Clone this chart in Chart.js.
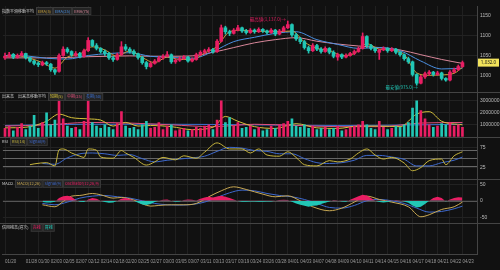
<!DOCTYPE html>
<html>
<head>
<meta charset="utf-8">
<script src="https://cdn.jsdelivr.net/npm/chart.js@4/dist/chart.umd.min.js"></script>
<style>
  html, body { margin: 0; padding: 0; background: #111; }
  canvas { display: block; }
</style>
</head>
<body>
<canvas id="c" width="500" height="270"></canvas>
<script>
// daily candles (price)
const open = [1044,1048,1053,1045,1050,1055,1044,1036,1031,1026,1032,1028,1014,1010,1050,1066,1060,1050,1055,1048,
  1062,1088,1075,1068,1060,1055,1044,1040,1052,1072,1066,1060,1054,1045,1032,1022,1030,1036,1044,1048,
  1052,1034,1038,1042,1046,1036,1040,1052,1058,1062,1065,1060,1086,1120,1110,1106,1114,1120,1112,1108,
  1114,1110,1116,1112,1108,1114,1104,1112,1120,1128,1102,1092,1085,1070,1062,1075,1066,1060,1068,1058,
  1046,1052,1046,1050,1055,1060,1068,1098,1075,1068,1058,1064,1068,1062,1066,1058,1052,1042,1034,1002,
  980,996,1004,1008,1002,1006,992,988,1008,1014,1022];
const high = [1056,1058,1055,1054,1060,1056,1046,1038,1034,1036,1035,1030,1016,1054,1072,1070,1062,1060,1058,1066,
  1095,1090,1080,1070,1064,1058,1048,1056,1085,1078,1070,1064,1056,1048,1035,1034,1040,1048,1052,1060,
  1054,1042,1046,1050,1048,1044,1056,1062,1066,1070,1068,1090,1127,1124,1114,1118,1126,1122,1116,1118,
  1117,1120,1118,1114,1118,1116,1116,1124,1137,1130,1106,1096,1088,1074,1080,1078,1070,1072,1070,1062,
  1056,1054,1054,1058,1064,1072,1107,1100,1078,1070,1066,1072,1070,1070,1068,1060,1054,1046,1036,1004,
  1000,1008,1012,1010,1010,1008,994,1012,1018,1026,1036];
const low = [1040,1045,1042,1043,1048,1041,1033,1026,1022,1024,1025,1010,1002,1008,1048,1056,1048,1048,1044,1046,
  1060,1072,1064,1056,1050,1040,1035,1038,1050,1062,1056,1050,1041,1028,1016,1020,1028,1034,1040,1046,
  1030,1030,1035,1040,1033,1034,1038,1050,1054,1058,1056,1058,1084,1104,1100,1104,1112,1108,1104,1106,
  1106,1108,1108,1104,1106,1100,1102,1110,1118,1098,1088,1080,1066,1056,1060,1062,1056,1058,1054,1044,
  1038,1042,1044,1048,1052,1058,1066,1070,1064,1058,1040,1062,1058,1060,1054,1048,1038,1030,998,975,
  978,992,1000,998,1000,988,985,986,1006,1012,1020];
const close = [1048,1052,1046,1050,1055,1044,1036,1030,1027,1032,1029,1014,1008,1050,1066,1060,1052,1055,1048,1062,
  1088,1075,1068,1060,1055,1044,1040,1052,1072,1066,1060,1054,1045,1032,1022,1030,1036,1044,1048,1052,
  1034,1038,1042,1046,1036,1040,1052,1058,1062,1065,1060,1086,1120,1110,1106,1114,1120,1112,1108,1114,
  1110,1116,1112,1108,1114,1104,1112,1120,1128,1102,1092,1085,1070,1062,1075,1066,1060,1068,1058,1048,
  1052,1046,1050,1055,1060,1068,1098,1075,1068,1062,1064,1068,1062,1066,1058,1052,1042,1034,1002,980,
  996,1004,1008,1002,1006,992,988,1008,1014,1022,1032];

// EMA lines as [candle index, value]
const ema5 = [[0,1048],[3,1049],[6,1043],[9,1032],[12,1018],[15,1046],[18,1054],[21,1072],[24,1064],[27,1048],
  [30,1062],[33,1045],[36,1032],[39,1046],[42,1040],[45,1040],[48,1056],[51,1073],[54,1110],[57,1114],
  [60,1111],[63,1111],[66,1110],[69,1112],[72,1084],[75,1068],[78,1063],[81,1050],[84,1055],[87,1080],
  [90,1066],[93,1064],[96,1052],[99,1006],[102,1000],[105,1001],[108,1005],[110,1020]];
const ema25 = [[0,1050],[5,1049],[10,1043],[15,1041],[20,1050],[25,1055],[30,1057],[35,1048],[40,1045],[45,1043],
  [50,1060],[55,1085],[60,1096],[65,1106],[70,1110],[75,1090],[80,1078],[85,1068],[90,1070],[95,1062],
  [100,1036],[105,1016],[110,1018]];
const ema75 = [[0,1044],[5,1044],[10,1044],[15,1045],[20,1047],[25,1048],[30,1049],[35,1048],[40,1048],[45,1049],
  [50,1058],[55,1070],[60,1082],[65,1090],[70,1095],[75,1086],[80,1079],[85,1074],[90,1070],[95,1064],
  [100,1052],[105,1040],[110,1030]];

// volume
const volume = [700000,900000,500000,800000,1100000,600000,900000,1800000,700000,1200000,
  2000000,1000000,1400000,3200000,1500000,900000,700000,800000,600000,1300000,
  3100000,1200000,900000,700000,1000000,800000,600000,1100000,2100000,900000,
  700000,800000,600000,1000000,1300000,700000,800000,1200000,600000,900000,
  1000000,500000,600000,700000,500000,600000,800000,700000,900000,1000000,
  600000,1400000,3000000,1200000,1600000,900000,1200000,700000,800000,900000,
  600000,800000,500000,600000,900000,700000,1000000,1100000,1300000,1500000,
  900000,800000,1000000,700000,900000,600000,700000,800000,600000,700000,
  900000,500000,600000,800000,900000,1000000,1300000,1000000,700000,600000,
  1300000,800000,600000,700000,900000,800000,1000000,1200000,2400000,3000000,
  2200000,1500000,1000000,800000,900000,1100000,1000000,1200000,900000,1000000,800000];
const volShort = [[0,750000],[5,800000],[10,1300000],[13,1900000],[16,1600000],[20,1500000],[23,1400000],[26,900000],
  [29,1200000],[32,900000],[35,950000],[40,850000],[45,600000],[50,800000],[53,1700000],[56,1300000],[60,850000],
  [65,700000],[70,1100000],[75,750000],[80,700000],[85,900000],[90,900000],[95,850000],[99,1900000],[102,2100000],
  [105,1300000],[110,1000000]];
const volMid = [[0,900000],[10,1000000],[20,1200000],[30,1150000],[40,1000000],[50,850000],[60,1050000],
  [70,950000],[80,850000],[90,850000],[100,1150000],[110,1200000]];
const volLong = [[0,950000],[20,1050000],[40,1050000],[60,1000000],[80,950000],[100,1000000],[110,1050000]];

// RSI
const rsi = [[6,33],[7,35],[10,38],[12,30],[13,70],[14,72],[16,62],[18,54],[19,51],[20,72],[22,69],[23,52],
  [26,49],[28,68],[29,62],[31,51],[34,32],[36,40],[38,51],[41,45],[43,55],[46,49],[48,64],[51,87],[54,72],
  [57,72],[59,62],[61,72],[63,57],[66,54],[68,65],[70,51],[72,33],[75,30],[78,43],[80,40],[83,47],[85,62],
  [87,72],[89,57],[91,47],[93,51],[96,37],[98,18],[100,26],[102,43],[105,47],[106,33],[108,55],[110,65]];
const rsiSignal = [[9,36],[12,34],[15,50],[18,60],[21,62],[24,60],[27,56],[30,58],[33,48],[36,40],[39,44],
  [42,47],[45,50],[48,54],[51,66],[54,76],[57,74],[60,68],[63,66],[66,60],[69,60],[72,48],[75,38],[78,36],
  [81,38],[84,44],[87,56],[90,56],[93,52],[96,46],[99,30],[102,30],[105,38],[108,44],[110,52]];

// MACD
const macd = [[9,-12],[12,-18],[14,-2],[16,14],[18,16],[21,22],[23,18],[26,8],[28,10],[31,2],[35,-16],[37,-14],
  [40,-12],[43,-12],[46,-8],[49,12],[52,30],[55,42],[58,34],[62,20],[65,12],[68,15],[71,0],[74,-18],[78,-30],
  [81,-22],[84,-4],[87,14],[90,4],[93,-4],[97,-18],[100,-48],[102,-42],[105,-26],[108,-18],[110,-4]];
const macdSignal = [[9,-8],[12,-12],[15,-4],[18,8],[21,14],[24,16],[27,12],[30,8],[33,0],[36,-8],[39,-12],
  [42,-13],[45,-11],[48,-4],[51,10],[54,24],[57,32],[60,30],[63,22],[66,16],[69,12],[72,4],[75,-8],[78,-20],
  [81,-22],[84,-14],[87,0],[90,4],[93,0],[96,-8],[99,-22],[102,-34],[105,-32],[108,-24],[110,-16]];
const macdOsc = [null,null,null,null,null,null,null,null,null,-4,-5,-5,-3,8,14,15,12,2,-3,-4,
  4,8,6,0,-4,-6,-5,0,6,8,5,0,-6,-11,-13,-10,-4,0,3,4,
  0,-3,-2,2,4,3,1,6,10,12,10,13,15,12,8,4,-1,-3,-3,-2,
  -2,-3,-3,-2,-2,0,2,3,2,-3,-8,-12,-15,-18,-15,-14,-10,-6,-2,2,
  1,-2,-3,3,8,14,18,16,8,0,-4,-5,-4,-1,2,1,-2,-6,-14,-20,
  -18,-10,0,8,12,8,-2,4,8,11,10];

// x axis
const tickIdx = [0,5,8,11,14,17,20,23,26,29,32,35,38,41,44,47,50,53,56,59,62,65,68,71,74,77,80,83,86,89,92,95,98,101,104,107,110];
const tickLabels = ['01/20','01/28','01/30','02/03','02/05','02/07','02/12','02/14','02/18','02/20','02/25','02/27',
  '03/03','03/05','03/07','03/11','03/13','03/17','03/19','03/24','03/26','03/28','04/01','04/03','04/07','04/08',
  '04/09','04/10','04/11','04/14','04/15','04/16','04/17','04/18','04/21','04/22','04/23'];
const slots = 114;

const priceTicks = [1000, 1050, 1100, 1150];
const volTicks = [1000000, 2000000, 3000000];
const rsiTicks = [25, 50, 75, 100];
const rsiLines = [30, 50, 70];
const macdTicks = [-50, -25, 0, 25, 50];

const UP = '#e91e63', DOWN = '#22c7b6';
const C_EMA5 = '#c9a23a', C_EMA25 = '#4a8fe0', C_EMA75 = '#d8879a';
const C_VS = '#d6c23a', C_VM = '#e0507a', C_VL = '#3b6fd0';
const C_RSI = '#c6b43c', C_SIG = '#3d68cc', C_MACD = '#c9a852';

const labels = Array.from({length: slots}, (_, i) => i);
const tickText = {};
tickIdx.forEach((k, n) => { tickText[k] = tickLabels[n]; });
const dirColor = open.map((o, i) => close[i] >= o ? UP : DOWN);
const pts = arr => arr.map(([x, y]) => ({x, y}));

const line = (arr, color, axis) => ({
  type: 'line', data: pts(arr), yAxisID: axis, borderColor: color, borderWidth: 1,
  pointRadius: 0, cubicInterpolationMode: 'monotone', fill: false
});

function yAxis(weight, stackWeight, extra) {
  return Object.assign({
    position: 'right', stack: 'panes', stackWeight, weight,
    border: {color: '#444'},
    grid: {color: '#222', drawTicks: false},
    ticks: {color: '#bbb', font: {size: 5}, padding: 3, callback: v => String(v)},
    afterFit: s => { s.width = 23; }
  }, extra);
}

const paneLegends = [
  ['y', [['指数平滑移動平均', '#ccc', 0], ['EMA(5)', C_EMA5, 1], ['EMA(25)', C_EMA25, 1], ['EMA(75)', C_EMA75, 1]]],
  ['yVol', [['出来高', '#ccc', 0], ['出来高移動平均', '#ccc', 0], ['短期(5)', C_VS, 1], ['中期(25)', C_VM, 1], ['長期(50)', C_VL, 1]]],
  ['yRsi', [['RSI', '#ccc', 0], ['RSI(14)', C_RSI, 1], ['Signal(9)', C_SIG, 1]]],
  ['yMacd', [['MACD', '#ccc', 0], ['MACD(12,26)', C_MACD, 1], ['Signal(9)', C_SIG, 1], ['Oscillator(12,26,9)', UP, 1]]],
  ['yCredit', [['信用残高(週次)', '#ccc', 0], ['売残', UP, 1], ['買残', DOWN, 1]]]
];

const fmt = v => v.toLocaleString('en-US', {minimumFractionDigits: 1, maximumFractionDigits: 1});

const panes = {
  id: 'panes',
  beforeDraw(c) {
    const g = c.ctx;
    g.save();
    g.fillStyle = '#111';
    g.fillRect(0, 0, c.width, c.height);
    g.restore();
  },
  beforeDatasetsDraw(c) {
    const g = c.ctx, a = c.chartArea, s = c.scales;
    g.save();
    g.lineWidth = 1;
    g.strokeStyle = '#666';
    rsiLines.forEach(v => {
      const y = Math.round(s.yRsi.getPixelForValue(v)) + 0.5;
      g.beginPath(); g.moveTo(a.left, y); g.lineTo(a.right, y); g.stroke();
    });
    g.strokeStyle = '#555';
    const z = Math.round(s.yMacd.getPixelForValue(0)) + 0.5;
    g.beginPath(); g.moveTo(a.left, z); g.lineTo(a.right, z); g.stroke();
    g.restore();
  },
  afterDraw(c) {
    const g = c.ctx, a = c.chartArea, s = c.scales;
    g.save();
    // pane separators
    g.strokeStyle = '#444';
    g.lineWidth = 1;
    ['y', 'yVol', 'yRsi', 'yMacd'].forEach(id => {
      const y = Math.round(s[id].bottom) + 0.5;
      g.beginPath(); g.moveTo(0, y); g.lineTo(c.width, y); g.stroke();
    });
    // legends
    g.textBaseline = 'middle';
    g.textAlign = 'left';
    g.font = '4px "Noto Sans CJK JP", "Noto Sans", sans-serif';
    paneLegends.forEach(([id, items]) => {
      let x = 2;
      const y = s[id].top + 5;
      items.forEach(([t, col, boxed]) => {
        const w = g.measureText(t).width;
        if (boxed) {
          g.fillStyle = '#242424';
          g.fillRect(x - 1, y - 3, w + 2, 6);
          g.strokeStyle = '#3a3a3a';
          g.strokeRect(x - 1.5, y - 3.5, w + 3, 7);
        }
        g.fillStyle = col;
        g.fillText(t, x, y);
        x += w + 4;
      });
    });
    // high / low markers
    const hi = Math.max(...high), lo = Math.min(...low);
    const hiX = s.x.getPixelForValue(high.indexOf(hi));
    const loX = s.x.getPixelForValue(low.indexOf(lo));
    g.font = '4.5px "Noto Sans CJK JP", sans-serif';
    g.textAlign = 'right';
    g.fillStyle = UP;
    g.fillText('最高値(' + fmt(hi) + ')→', hiX - 2, s.y.getPixelForValue(hi) - 2);
    g.fillStyle = DOWN;
    g.fillText('最安値(' + fmt(lo) + ')→', loX + 1, s.y.getPixelForValue(lo) + 2.5);
    // last price tag
    const last = close[close.length - 1];
    const py = s.y.getPixelForValue(last);
    g.fillStyle = '#f2e35c';
    g.fillRect(a.right + 1, py - 4, 21, 8);
    g.fillStyle = '#111';
    g.textAlign = 'center';
    g.font = '4.5px "Noto Sans", sans-serif';
    g.fillText(fmt(last), a.right + 11.5, py);
    g.restore();
  }
};

new Chart(document.getElementById('c'), {
  type: 'bar',
  data: {
    labels,
    datasets: [
      {data: low.map((l, i) => [l, high[i]]), yAxisID: 'y', backgroundColor: dirColor, barThickness: 1, grouped: false},
      {data: open.map((o, i) => [o, close[i]]), yAxisID: 'y', backgroundColor: dirColor, barThickness: 3, grouped: false, minBarLength: 1},
      line(ema5, C_EMA5, 'y'),
      line(ema25, C_EMA25, 'y'),
      line(ema75, C_EMA75, 'y'),
      {data: volume, yAxisID: 'yVol', backgroundColor: dirColor, barThickness: 2, grouped: false},
      line(volShort, C_VS, 'yVol'),
      line(volMid, C_VM, 'yVol'),
      line(volLong, C_VL, 'yVol'),
      line(rsi, C_RSI, 'yRsi'),
      line(rsiSignal, C_SIG, 'yRsi'),
      {type: 'line', data: macdOsc, yAxisID: 'yMacd', borderWidth: 0, borderColor: 'transparent', pointRadius: 0,
        fill: {target: 'origin', above: UP, below: DOWN}},
      line(macd, C_MACD, 'yMacd'),
      line(macdSignal, C_SIG, 'yMacd')
    ]
  },
  options: {
    responsive: false,
    animation: false,
    devicePixelRatio: 1,
    layout: {padding: 0},
    plugins: {legend: {display: false}, tooltip: {enabled: false}},
    scales: {
      x: {
        type: 'category', offset: true,
        border: {color: '#444'},
        grid: {offset: false, drawTicks: false, color: ctx => tickText[ctx.index] !== undefined ? '#202020' : 'transparent'},
        ticks: {autoSkip: false, maxRotation: 0, minRotation: 0, align: 'start', padding: 5,
          color: '#999', font: {size: 4.5}, callback: v => tickText[v] || ''},
        afterFit: s => { s.height = 16; }
      },
      y: yAxis(1, 88, {min: 958, max: 1175, afterBuildTicks: s => { s.ticks = priceTicks.map(value => ({value})); }}),
      yVol: yAxis(2, 46, {min: 0, max: 3750000, afterBuildTicks: s => { s.ticks = volTicks.map(value => ({value})); }}),
      yRsi: yAxis(3, 43, {min: -2, max: 102, afterBuildTicks: s => { s.ticks = rsiTicks.map(value => ({value})); }}),
      yMacd: yAxis(4, 45, {min: -66, max: 66, afterBuildTicks: s => { s.ticks = macdTicks.map(value => ({value})); }}),
      yCredit: yAxis(5, 32, {min: 0, max: 1, ticks: {display: false}, grid: {display: false}})
    }
  },
  plugins: [panes]
});
</script>
</body>
</html>
